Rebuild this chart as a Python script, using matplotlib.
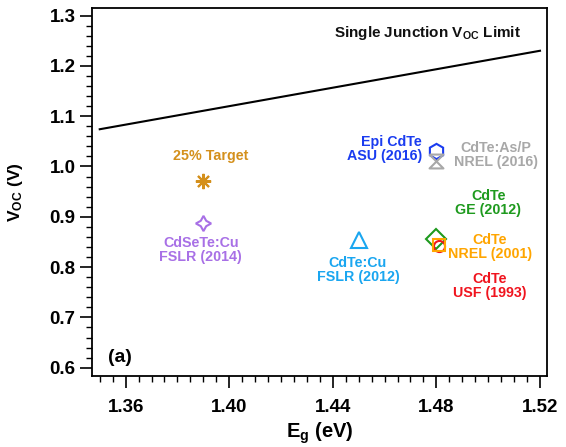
import matplotlib
matplotlib.use("Agg")
import matplotlib.pyplot as plt
from matplotlib.ticker import MultipleLocator

plt.rcParams['font.family'] = ['Liberation Sans', 'DejaVu Sans']
plt.rcParams['font.weight'] = 'bold'
plt.rcParams['mathtext.fontset'] = 'custom'
plt.rcParams['mathtext.rm'] = 'Liberation Sans:bold'
plt.rcParams['mathtext.it'] = 'Liberation Sans:bold'
plt.rcParams['mathtext.bf'] = 'Liberation Sans:bold'
plt.rcParams['mathtext.default'] = 'rm'

# Single junction limit line
limit_eg = [1.35, 1.52]
limit_voc = [1.074, 1.230]

# device records
labels = ["25% Target", "CdSeTe:Cu\nFSLR (2014)", "CdTe:Cu\nFSLR (2012)",
          "Epi CdTe\nASU (2016)", "CdTe:As/P\nNREL (2016)", "CdTe\nGE (2012)",
          "CdTe\nUSF (1993)", "CdTe\nNREL (2001)"]
eg = [1.390, 1.390, 1.450, 1.480, 1.480, 1.480, 1.481, 1.481]
voc = [0.971, 0.887, 0.854, 1.031, 1.010, 0.856, 0.841, 0.843]
colors = ["#d4901c", "#a870e6", "#1aa6f0", "#1a3cf0", "#a8a8a8", "#1e9a1e",
          "#f0141e", "#ffa500"]
bowtie = [(-1, 1), (1, 1), (-1, -1), (1, -1), (-1, 1)]
markers = [(8, 2, 0), (4, 1, 0), "^", "h", bowtie, "D", "o", "s"]
msizes = [11, 11, 11, 11, 10, 10, 8, 8]

# label placement (x, y, ha)
lab_x = [1.3929, 1.389, 1.4497, 1.4744, 1.503, 1.500, 1.5007, 1.5007]
lab_y = [1.021, 0.834, 0.794, 1.035, 1.023, 0.927, 0.762, 0.840]
lab_ha = ["center", "center", "center", "right", "center", "center", "center", "center"]

fig = plt.figure(figsize=(5.66, 4.47), dpi=100)
ax = fig.add_axes([0.162, 0.1588, 0.8044, 0.8233])

ax.plot(limit_eg, limit_voc, color="black", lw=1.5)
ax.text(1.4767, 1.2654, "Single Junction V$_{OC}$ Limit", ha="center", va="center",
        fontsize=11, fontweight="bold", color="#111111")

for i in range(len(labels)):
    ax.plot(eg[i], voc[i], linestyle="none", marker=markers[i], ms=msizes[i],
            mfc="none", mec=colors[i], mew=1.5)
    ax.text(lab_x[i], lab_y[i], labels[i], ha=lab_ha[i], va="center",
            fontsize=10.3, fontweight="bold", color=colors[i], linespacing=1.0)

ax.text(1.3577, 0.621, "(a)", ha="center", va="center", fontsize=14, fontweight="bold")

ax.set_xlim(1.3469, 1.5227)
ax.set_ylim(0.5835, 1.315)
ax.xaxis.set_major_locator(MultipleLocator(0.04))
ax.xaxis.set_minor_locator(MultipleLocator(0.005))
ax.yaxis.set_major_locator(MultipleLocator(0.1))
ax.yaxis.set_minor_locator(MultipleLocator(0.02))
ax.xaxis.set_major_formatter(matplotlib.ticker.FormatStrFormatter("%.2f"))
ax.yaxis.set_major_formatter(matplotlib.ticker.FormatStrFormatter("%.1f"))
ax.tick_params(which="major", direction="out", length=8.5, width=1.2, labelsize=13.5)
ax.tick_params(which="minor", direction="out", length=4.3, width=1.0)
ax.tick_params(axis="x", which="major", pad=8)
ax.tick_params(axis="y", which="major", pad=3)
for s in ax.spines.values():
    s.set_linewidth(1.3)

ax.set_xlabel("E$_{g}$ (eV)", fontsize=14.5, fontweight="bold", labelpad=3)
ax.set_ylabel("V$_{OC}$ (V)", fontsize=12.5, fontweight="bold", labelpad=18)

fig.savefig("out.png", dpi=100)
